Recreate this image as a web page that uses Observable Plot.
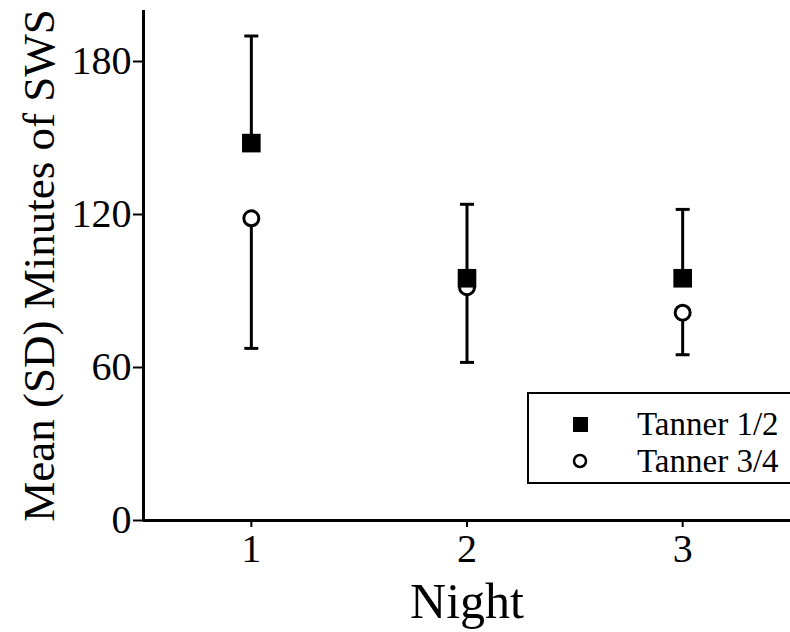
<!DOCTYPE html>
<html>
<head>
<meta charset="utf-8">
<script src="https://cdn.jsdelivr.net/npm/d3@7"></script>
<script src="https://cdn.jsdelivr.net/npm/@observablehq/plot@0.6"></script>
<style>
  html, body { margin: 0; padding: 0; background: #fff; overflow: hidden; }
  #wrap { position: relative; width: 790px; height: 632px; overflow: hidden; font-family: "Liberation Serif", "Times New Roman", serif; }
  #wrap svg g[aria-label="y-axis label"] text { font-size: 45px; }
  #wrap svg g[aria-label="x-axis label"] text { font-size: 50px; }
  .legend { position: absolute; left: 527px; top: 392px; width: 320px; height: 88px; border: 2px solid #000; border-right: none; background: #fff; }
  .legend .row { position: absolute; left: 0; }
  .legend .row span { font-size: 33px; color: #000; position: absolute; left: 108px; white-space: nowrap; }
  .legend svg { position: absolute; }
</style>
</head>
<body>
<div id="wrap"></div>
<script>
const nights = [1, 2, 3];
const tanner12Mean = [148, 95, 95];
const tanner12SD = [42, 29, 27];
const tanner34Mean = [118.5, 91.5, 81.5];
const tanner34SD = [51, 29.5, 16.5];
const yTicks = [0, 60, 120, 180];
const xTicks = [1, 2, 3];
const groups = ["Tanner 1/2", "Tanner 3/4"];

const rows12 = nights.map((n, i) => ({night: n, mean: tanner12Mean[i], end: tanner12Mean[i] + tanner12SD[i]}));
const rows34 = nights.map((n, i) => ({night: n, mean: tanner34Mean[i], end: tanner34Mean[i] - tanner34SD[i]}));

const capSymbol = {
  draw(ctx, size) {
    const w = Math.sqrt(size / Math.PI);
    ctx.moveTo(-w, 0);
    ctx.lineTo(w, 0);
  }
};

const chart = Plot.plot({
  width: 790,
  height: 632,
  marginLeft: 143,
  marginRight: 0,
  marginTop: 10,
  marginBottom: 112,
  x: {domain: [0.5, 3.5]},
  y: {domain: [0, 200]},
  style: {fontFamily: '"Liberation Serif", "Times New Roman", serif', color: "#000", background: "#fff", overflow: "visible"},
  marks: [
    Plot.axisY({ticks: yTicks, tickSize: 10, tickPadding: 2, fontSize: 40, strokeWidth: 2,
      label: "Mean (SD) Minutes of SWS", labelAnchor: "center", labelOffset: 121, labelArrow: "none"}),
    Plot.axisX({ticks: xTicks, tickFormat: (d) => String(d), tickSize: 7, tickPadding: 6, fontSize: 40, strokeWidth: 2,
      label: "Night", labelAnchor: "center", labelOffset: 97, labelArrow: "none"}),
    Plot.ruleX([0.5], {stroke: "#000", strokeWidth: 3}),
    Plot.ruleY([0], {stroke: "#000", strokeWidth: 3}),
    // Tanner 3/4 error bars (downward)
    Plot.ruleX(rows34, {x: "night", y1: "mean", y2: "end", stroke: "#000", strokeWidth: 3}),
    Plot.dot(rows34, {x: "night", y: "end", symbol: capSymbol, r: 7, stroke: "#000", strokeWidth: 3, fill: "none"}),
    Plot.dot(rows34, {x: "night", y: "mean", symbol: "circle", r: 7.5, stroke: "#000", strokeWidth: 3, fill: "#fff"}),
    // Tanner 1/2 error bars (upward)
    Plot.ruleX(rows12, {x: "night", y1: "mean", y2: "end", stroke: "#000", strokeWidth: 3}),
    Plot.dot(rows12, {x: "night", y: "end", symbol: capSymbol, r: 7, stroke: "#000", strokeWidth: 3, fill: "none"}),
    Plot.dot(rows12, {x: "night", y: "mean", symbol: "square", r: 10.5, fill: "#000", stroke: "none"})
  ]
});

const wrap = document.getElementById("wrap");
wrap.appendChild(chart);

// Legend
const legend = document.createElement("div");
legend.className = "legend";
const sw1 = `<svg width="20" height="20" style="left:42px;top:21px"><rect x="2" y="2" width="15" height="15" fill="#000"/></svg>`;
const sw2 = `<svg width="20" height="20" style="left:41px;top:57px"><circle cx="10" cy="10" r="6" fill="#fff" stroke="#000" stroke-width="2.5"/></svg>`;
legend.innerHTML = sw1 + sw2 +
  `<div class="row" style="top:12px"><span>${groups[0]}</span></div>` +
  `<div class="row" style="top:49px"><span>${groups[1]}</span></div>`;
wrap.appendChild(legend);
</script>
</body>
</html>
